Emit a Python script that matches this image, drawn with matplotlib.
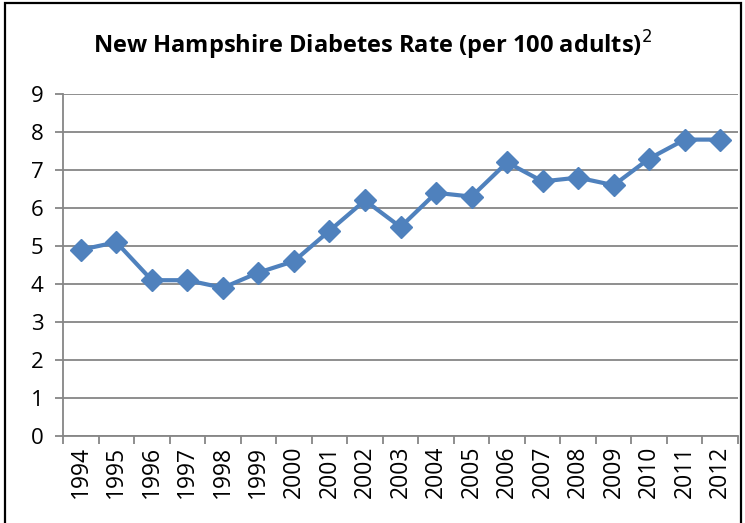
import matplotlib.pyplot as plt
from matplotlib.patches import Rectangle

years = [str(y) for y in range(1994, 2013)]
rates = [4.9, 5.1, 4.1, 4.1, 3.9, 4.3, 4.6, 5.4, 6.2, 5.5,
         6.4, 6.3, 7.2, 6.7, 6.8, 6.6, 7.3, 7.8, 7.8]

plt.rcParams['font.family'] = ['Open Sans', 'DejaVu Sans']

fig = plt.figure(figsize=(7.45, 5.23), dpi=100)
ax = fig.add_axes([63 / 745, 1 - 436 / 523, (738 - 63) / 745, (436 - 94) / 523])

# outer chart frame (bottom edge runs off the image)
fig.patches.append(Rectangle((5 / 745, -0.05), (741 - 5) / 745, 1.05 - 3 / 523,
                             transform=fig.transFigure, fill=False,
                             edgecolor='black', linewidth=1.6))

x = list(range(len(years)))
ax.plot(x, rates, color='#4F81BD', linewidth=3, marker='D', markersize=11,
        markerfacecolor='#4F81BD', markeredgecolor='#4F81BD', zorder=3)

ax.set_xlim(-0.5, len(years) - 0.5)
ax.set_ylim(0, 9)
ax.set_yticks(range(10))
ax.grid(axis='y', color='#868686', linewidth=1.3)
ax.set_axisbelow(True)

ax.set_xticks([i - 0.5 for i in range(len(years) + 1)])
ax.set_xticklabels([])
ax.set_xticks(x, minor=True)
ax.set_xticklabels(years, minor=True, rotation=90, fontsize=16.5)
ax.tick_params(axis='x', which='minor', length=0, pad=7)
ax.tick_params(axis='x', which='major', length=6, color='#868686', width=1.3)
ax.tick_params(axis='y', length=6, color='#868686', width=1.3, labelsize=16, pad=8)

for side in ['top', 'right']:
    ax.spines[side].set_visible(False)
for side in ['left', 'bottom']:
    ax.spines[side].set_color('#868686')
    ax.spines[side].set_linewidth(1.3)

fig.text(0.5, 1 - 45 / 523, 'New Hampshire Diabetes Rate (per 100 adults)$^{2}$',
         ha='center', va='center', fontsize=17, fontweight='bold')

fig.savefig('out.png', dpi=100)
